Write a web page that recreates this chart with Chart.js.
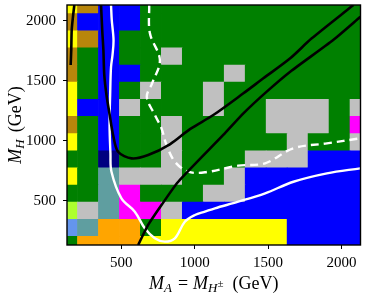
<!DOCTYPE html>
<html>
<head>
<meta charset="utf-8">
<script src="https://cdn.jsdelivr.net/npm/chart.js@4.4.1/dist/chart.umd.min.js"></script>
<style>
  html, body { margin: 0; padding: 0; background: #fff; }
</style>
</head>
<body>
<canvas id="chart" width="366" height="296"></canvas>
<script>
// scan grid, same masses on both axes (GeV)
const massGrid = [130, 272.86, 415.71, 558.57, 701.43, 844.29, 987.14, 1130,
                  1272.86, 1415.71, 1558.57, 1701.43, 1844.29, 1987.14, 2130];
const tickValues = [500, 1000, 1500, 2000];

const cellColours = {
  G: 'green', B: 'blue', S: 'silver', Y: 'yellow', D: 'darkgoldenrod',
  M: 'magenta', N: 'navy', C: 'cadetblue', O: 'orange', L: 'greenyellow',
  F: 'cornflowerblue'
};

// one string per M_H row, top row first, one letter per M_A column
const cellRows = [
  'YDBBGGGGGGGGGGG',
  'DBBBGGGGGGGGGGG',
  'YDBGGGGGGGGGGGG',
  'DGBGGSGGGGGGGGG',
  'DGBBGGGGSGGGGGG',
  'YGBGSGGSGGGGGGG',
  'YBBSGGGSGGSSSGS',
  'DGBGGSGGGGSSSGM',
  'YGBGGSGGGGGSGGS',
  'GGNGGSGGGSSSBBB',
  'YGCSSSGGSBBBBBB',
  'GGCMGGGSSBBBBBB',
  'LSCMMSBBBBBBBBB',
  'FCOOGYYYYYYBBBB',
  'GOOOYYYYYYYBBBB'
];

// contour lines [M_A, M_H]
const blackEdge = [[180, 2130], [172, 2047], [162, 1922], [159, 1755], [155, 1630]];
const blackUpper = [[362, 2130], [370, 1922], [378, 1755], [384, 1547], [399, 1380],
  [421, 1213], [444, 1047], [478, 907], [570, 852], [683, 880], [831, 969],
  [968, 1095], [1127, 1213], [1332, 1394], [1468, 1519], [1651, 1686], [1798, 1852], [2082, 2130]];
const blackLower = [[615, 130], [683, 297], [774, 463], [888, 657],
  [1195, 1047], [1332, 1227], [1491, 1408], [1651, 1574], [1944, 1838], [2130, 2032]];
const whiteSolid = [[430, 2130], [435, 2005], [447, 1838], [440, 1713], [430, 1613],
  [424, 1380], [420, 1130], [426, 897], [433, 741], [501, 519], [592, 408], [660, 269],
  [728, 186], [797, 158], [865, 186], [933, 324], [1002, 380], [1070, 408], [1138, 436],
  [1297, 491], [1480, 561], [1673, 657], [1901, 727], [2128, 769]];
const whiteDashed = [[690, 2130], [695, 1894], [763, 1672], [710, 1477], [674, 1363],
  [729, 1213], [774, 1102], [808, 963], [865, 824], [956, 741], [1070, 736],
  [1297, 791], [1480, 811], [1673, 936], [1901, 977], [2128, 1019]];

const cells = [];
const cellFill = [];
const last = massGrid.length - 1;
cellRows.forEach((row, r) => {
  const j = last - r;
  const lo = j > 0 ? (massGrid[j - 1] + massGrid[j]) / 2 : massGrid[0] - (massGrid[1] - massGrid[0]) / 2;
  const hi = j < last ? (massGrid[j] + massGrid[j + 1]) / 2 : massGrid[j] + (massGrid[j] - massGrid[j - 1]) / 2;
  [...row].forEach((code, i) => {
    cells.push({x: massGrid[i], y: [lo, hi]});
    cellFill.push(cellColours[code]);
  });
});

function lineSet(points, colour, width, dash, tension) {
  return {
    type: 'line',
    data: points.map(p => ({x: p[0], y: p[1]})),
    borderColor: colour,
    borderWidth: width,
    borderDash: dash,
    pointRadius: 0,
    tension: tension,
    fill: false,
    order: 0
  };
}

const serif = '"Liberation Serif", "Times New Roman", serif';

function drawRuns(ctx, runs, x, y) {
  let cx = x;
  runs.forEach(r => {
    ctx.font = r.font;
    ctx.fillText(r.text, cx, y + (r.dy || 0));
    cx += ctx.measureText(r.text).width + (r.gap || 0);
  });
}
function runsWidth(ctx, runs) {
  let w = 0;
  runs.forEach(r => { ctx.font = r.font; w += ctx.measureText(r.text).width + (r.gap || 0); });
  return w;
}

const frameAndTitles = {
  id: 'frameAndTitles',
  afterDraw(chart) {
    const {ctx, chartArea: a} = chart;
    ctx.save();
    ctx.strokeStyle = '#000';
    ctx.lineWidth = 1.4;
    ctx.strokeRect(a.left, a.top, a.right - a.left, a.bottom - a.top);

    ctx.fillStyle = '#000';
    ctx.textBaseline = 'alphabetic';
    ctx.textAlign = 'left';
    const it = 'italic 18px ' + serif, itSub = 'italic 13px ' + serif, rm = '18px ' + serif;
    const xRuns = [
      {text: 'M', font: it},
      {text: 'A', font: itSub, dy: 3.5, gap: 6},
      {text: '=', font: rm, gap: 5},
      {text: 'M', font: it},
      {text: 'H', font: itSub, dy: 3.5},
      {text: '\u00b1', font: '11px ' + serif, dy: -2, gap: 9},
      {text: '(GeV)', font: rm}
    ];
    const xw = runsWidth(ctx, xRuns);
    drawRuns(ctx, xRuns, (a.left + a.right) / 2 - xw / 2, 288.5);

    const yRuns = [
      {text: 'M', font: it},
      {text: 'H', font: itSub, dy: 3.5, gap: 7},
      {text: '(GeV)', font: rm}
    ];
    const yw = runsWidth(ctx, yRuns);
    ctx.translate(20.5, (a.top + a.bottom) / 2);
    ctx.rotate(-Math.PI / 2);
    drawRuns(ctx, yRuns, -yw / 2, 0);
    ctx.restore();
  }
};

function axis(size, isX) {
  return {
    type: 'linear',
    min: massGrid[0],
    max: massGrid[last],
    offset: false,
    afterBuildTicks: s => { s.ticks = tickValues.map(v => ({value: v})); },
    afterFit: s => {
      if (isX) s.height = size; else s.width = size;
      s.paddingTop = 0; s.paddingBottom = 0; s.paddingLeft = 0; s.paddingRight = 0;
    },
    grid: { drawOnChartArea: false, offset: false, color: '#000', tickLength: 4, tickWidth: 1 },
    border: { display: false },
    ticks: {
      color: '#000',
      font: { family: serif, size: 15 },
      padding: isX ? 5 : 7,
      maxRotation: 0,
      callback: v => String(v)
    }
  };
}

new Chart(document.getElementById('chart'), {
  type: 'bar',
  data: {
    datasets: [
      lineSet(blackEdge, '#000', 2.6, [], 0.2),
      lineSet(blackUpper, '#000', 2.6, [], 0.3),
      lineSet(blackLower, '#000', 2.6, [], 0.2),
      lineSet(whiteSolid, '#fff', 2.4, [], 0.35),
      lineSet(whiteDashed, '#fff', 2.4, [8, 5], 0.35),
      {
        type: 'bar',
        data: cells,
        backgroundColor: cellFill,
        borderWidth: 0,
        categoryPercentage: 1,
        barPercentage: 1,
        grouped: false,
        order: 5
      }
    ]
  },
  options: {
    responsive: false,
    devicePixelRatio: 1,
    animation: false,
    events: [],
    layout: { padding: { top: 5, right: 5.5, left: 0, bottom: 0 } },
    plugins: { legend: { display: false }, tooltip: { enabled: false } },
    scales: { x: axis(51, true), y: axis(67, false) }
  },
  plugins: [frameAndTitles]
});
</script>
</body>
</html>
